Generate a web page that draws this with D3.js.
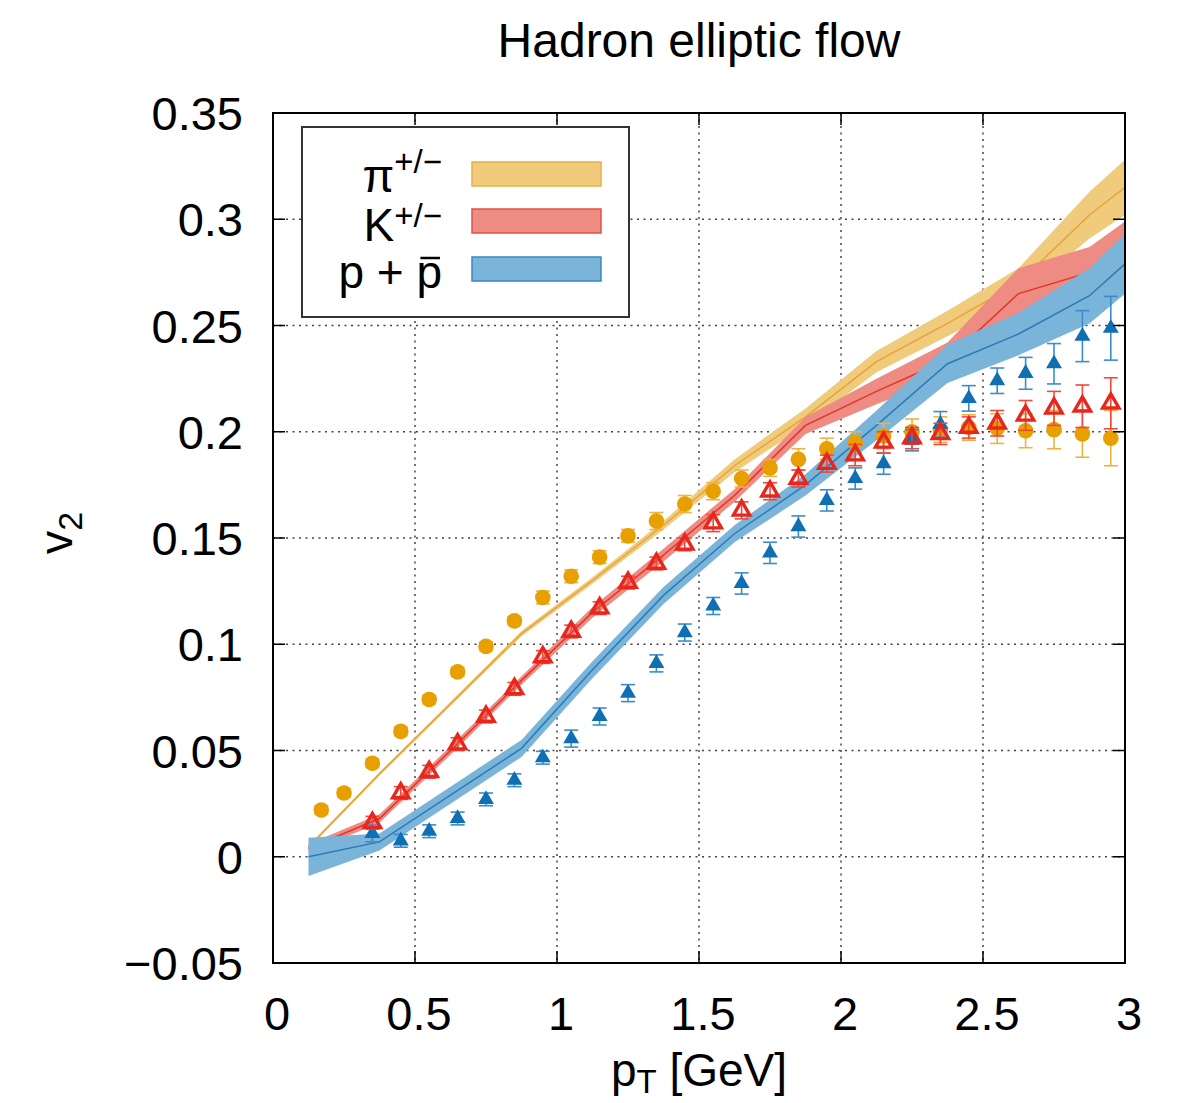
<!DOCTYPE html>
<html><head><meta charset="utf-8">
<script src="https://cdn.jsdelivr.net/npm/d3@7"></script>
<style>body{margin:0;background:#fff;} text{font-family:"Liberation Sans",Arial,Helvetica,sans-serif;fill:#000;}</style>
</head><body><svg id="c" width="1178" height="1103"></svg>
<script>
// ---- axis ticks ----
const xTicks=[0,0.5,1,1.5,2,2.5,3];
const xTickLabels=["0","0.5","1","1.5","2","2.5","3"];
const yTicks=[-0.05,0,0.05,0.1,0.15,0.2,0.25,0.3,0.35];
const yTickLabels=["\u22120.05","0","0.05","0.1","0.15","0.2","0.25","0.3","0.35"];

// ---- hydro model bands (knots in pT) ----
const hydroPT=[0.125,0.375,0.625,0.875,1.125,1.375,1.625,1.875,2.125,2.375,2.625,2.875,3.125];
const pionHydro=[0.0046,0.039,0.072,0.105,0.130,0.156,0.184,0.207,0.233,0.251,0.270,0.302,0.328];
const pionHydroErr=[0.0008,0.0008,0.001,0.0012,0.0015,0.002,0.003,0.004,0.005,0.006,0.007,0.011,0.015];
const kaonHydro=[0.004,0.018,0.050,0.083,0.115,0.142,0.170,0.203,0.219,0.234,0.265,0.275,0.297];
const kaonHydroErr=[0.002,0.002,0.002,0.002,0.0025,0.003,0.003,0.004,0.006,0.008,0.012,0.012,0.014];
const protonHydro=[0.000,0.007,0.029,0.051,0.088,0.123,0.152,0.175,0.203,0.232,0.246,0.264,0.294];
const protonHydroErr=[0.009,0.004,0.004,0.004,0.004,0.004,0.004,0.005,0.007,0.009,0.010,0.013,0.015];

// ---- measured data ----
const pionPT=[0.17,0.25,0.35,0.45,0.55,0.65,0.75,0.85,0.95,1.05,1.15,1.25,1.35,1.45,1.55,1.65,1.75,1.85,1.95,2.05,2.15,2.25,2.35,2.45,2.55,2.65,2.75,2.85,2.95];
const pionV2=[0.022,0.030,0.044,0.059,0.074,0.087,0.099,0.111,0.122,0.132,0.141,0.151,0.158,0.166,0.172,0.178,0.183,0.187,0.192,0.195,0.198,0.200,0.201,0.202,0.2015,0.2005,0.201,0.199,0.197];
const pionErr=[0.002,0.002,0.002,0.002,0.002,0.002,0.002,0.002,0.003,0.003,0.003,0.003,0.004,0.004,0.004,0.004,0.004,0.005,0.005,0.005,0.006,0.006,0.006,0.006,0.007,0.008,0.009,0.011,0.013];
const kaonPT=[0.35,0.45,0.55,0.65,0.75,0.85,0.95,1.05,1.15,1.25,1.35,1.45,1.55,1.65,1.75,1.85,1.95,2.05,2.15,2.25,2.35,2.45,2.55,2.65,2.75,2.85,2.95];
const kaonV2=[0.016,0.030,0.040,0.053,0.066,0.079,0.094,0.106,0.117,0.129,0.138,0.147,0.157,0.163,0.172,0.178,0.185,0.189,0.195,0.197,0.199,0.202,0.204,0.2077,0.211,0.212,0.2134];
const kaonErr=[0.003,0.003,0.003,0.003,0.003,0.003,0.003,0.003,0.003,0.003,0.003,0.003,0.004,0.004,0.004,0.004,0.004,0.005,0.005,0.005,0.005,0.005,0.006,0.007,0.008,0.010,0.012];
const protonPT=[0.35,0.45,0.55,0.65,0.75,0.85,0.95,1.05,1.15,1.25,1.35,1.45,1.55,1.65,1.75,1.85,1.95,2.05,2.15,2.25,2.35,2.45,2.55,2.65,2.75,2.85,2.95];
const protonV2=[0.011,0.0075,0.012,0.018,0.027,0.036,0.0466,0.0556,0.066,0.077,0.091,0.1055,0.118,0.1286,0.143,0.1554,0.1677,0.178,0.185,0.196,0.2035,0.2157,0.224,0.2275,0.232,0.245,0.2487];
const protonErr=[0.004,0.003,0.003,0.003,0.003,0.003,0.003,0.004,0.004,0.004,0.004,0.004,0.004,0.005,0.005,0.005,0.005,0.005,0.005,0.005,0.006,0.006,0.006,0.0075,0.0095,0.012,0.015];

const legendLabels=[{base:"\u03c0",sup:"+/\u2212"},{base:"K",sup:"+/\u2212"},{base:"p + p",bar:true}];

// ---- styles ----
const bandFill=["#efcb7b","#ee8b82","#7ab4d8"];
const bandLine=["#e8a33a","#e0362a","#2a7bb8"];
const bandEdge=["#e9b04a","#e05048","#3a88c0"];
const L=273,R=1125,T=113,B=963;

const svg=d3.select("#c");
const x=d3.scaleLinear().domain([0,3]).range([L,R]);
const y=d3.scaleLinear().domain([-0.05,0.35]).range([B,T]);

svg.append("defs").append("clipPath").attr("id","clip")
  .append("rect").attr("x",L).attr("y",T).attr("width",R-L).attr("height",B-T);

// grid
const grid=svg.append("g");
grid.selectAll("line.gx").data(xTicks.slice(1,-1)).enter().append("line")
  .attr("x1",d=>x(d)).attr("x2",d=>x(d)).attr("y1",T).attr("y2",B)
  .attr("stroke","#444").attr("stroke-width",1.5).attr("stroke-dasharray","2,4.5");
grid.selectAll("line.gy").data(yTicks.slice(1,-1)).enter().append("line")
  .attr("y1",d=>y(d)).attr("y2",d=>y(d)).attr("x1",L).attr("x2",R)
  .attr("stroke","#444").attr("stroke-width",1.5).attr("stroke-dasharray","2,4.5");

// bands
const plot=svg.append("g").attr("clip-path","url(#clip)");
const bands=[[pionHydro,pionHydroErr],[kaonHydro,kaonHydroErr],[protonHydro,protonHydroErr]];
bands.forEach(([v,e],i)=>{
  const pts=hydroPT.map((p,j)=>({p,v:v[j],e:e[j]}));
  plot.append("path").datum(pts)
    .attr("d",d3.area().x(d=>x(d.p)).y0(d=>y(d.v-d.e)).y1(d=>y(d.v+d.e)))
    .attr("fill",bandFill[i]).attr("stroke","none");
  plot.append("path").datum(pts)
    .attr("d",d3.line().x(d=>x(d.p)).y(d=>y(d.v)))
    .attr("fill","none").attr("stroke",bandLine[i]).attr("stroke-width",1.5);
});

// error bars helper
function errbars(pt,v,e,color){
  const g=plot.append("g").attr("stroke",color).attr("stroke-width",1.6).attr("fill","none");
  const data=pt.map((p,j)=>({p,v:v[j],e:e[j]}));
  g.selectAll("line.v").data(data).enter().append("line")
    .attr("x1",d=>x(d.p)).attr("x2",d=>x(d.p)).attr("y1",d=>y(d.v-d.e)).attr("y2",d=>y(d.v+d.e));
  g.selectAll("line.t").data(data).enter().append("line")
    .attr("x1",d=>x(d.p)-7).attr("x2",d=>x(d.p)+7).attr("y1",d=>y(d.v+d.e)).attr("y2",d=>y(d.v+d.e));
  g.selectAll("line.b").data(data).enter().append("line")
    .attr("x1",d=>x(d.p)-7).attr("x2",d=>x(d.p)+7).attr("y1",d=>y(d.v-d.e)).attr("y2",d=>y(d.v-d.e));
  return data;
}
// pions
const pd=errbars(pionPT,pionV2,pionErr,"#efb241");
plot.append("g").selectAll("circle").data(pd).enter().append("circle")
  .attr("cx",d=>x(d.p)).attr("cy",d=>y(d.v)).attr("r",7.8).attr("fill","#e89f00");
// protons
const prd=errbars(protonPT,protonV2,protonErr,"#3b8ccb");
const triF=d3.symbol().type(d3.symbolTriangle).size(110);
plot.append("g").selectAll("path").data(prd).enter().append("path")
  .attr("transform",d=>`translate(${x(d.p)},${y(d.v)})`).attr("d",triF).attr("fill","#0f6fb3");
// kaons
const kd=errbars(kaonPT,kaonV2,kaonErr,"#ee4a3e");
const triK=d3.symbol().type(d3.symbolTriangle).size(115);
plot.append("g").selectAll("path").data(kd).enter().append("path")
  .attr("transform",d=>`translate(${x(d.p)},${y(d.v)})`).attr("d",triK)
  .attr("fill","none").attr("stroke","#e8261c").attr("stroke-width",3.4);

// frame
svg.append("rect").attr("x",L).attr("y",T).attr("width",R-L).attr("height",B-T)
  .attr("fill","none").attr("stroke","#000").attr("stroke-width",2);
// ticks (inward, mirrored)
const tk=svg.append("g").attr("stroke","#000").attr("stroke-width",1.5);
xTicks.forEach(t=>{
  tk.append("line").attr("x1",x(t)).attr("x2",x(t)).attr("y1",B).attr("y2",B-12);
  tk.append("line").attr("x1",x(t)).attr("x2",x(t)).attr("y1",T).attr("y2",T+12);
});
yTicks.forEach(t=>{
  tk.append("line").attr("x1",L).attr("x2",L+12).attr("y1",y(t)).attr("y2",y(t));
  tk.append("line").attr("x1",R).attr("x2",R-12).attr("y1",y(t)).attr("y2",y(t));
});
// tick labels
svg.append("g").selectAll("text").data(xTicks).enter().append("text")
  .attr("x",d=>x(d)+4).attr("y",1030).attr("text-anchor","middle").attr("font-size",47)
  .text((d,i)=>xTickLabels[i]);
svg.append("g").selectAll("text").data(yTicks).enter().append("text")
  .attr("x",243).attr("y",d=>y(d)+17).attr("text-anchor","end").attr("font-size",47)
  .text((d,i)=>yTickLabels[i]);

// title
svg.append("text").attr("x",(L+R)/2).attr("y",57).attr("text-anchor","middle")
  .attr("font-size",48).text("Hadron elliptic flow");
// x label
const xl=svg.append("text").attr("x",(L+R)/2).attr("y",1086).attr("text-anchor","middle").attr("font-size",46);
xl.append("tspan").text("p");
xl.append("tspan").attr("font-size",33).attr("dy",7).text("T");
xl.append("tspan").attr("dy",-7).text(" [GeV]");
// y label
const yl=svg.append("text").attr("transform","translate(72,533) rotate(-90)").attr("text-anchor","middle").attr("font-size",47);
yl.append("tspan").text("v");
yl.append("tspan").attr("font-size",34).attr("dy",10).text("2");

// legend
const lg=svg.append("g");
lg.append("rect").attr("x",302).attr("y",127).attr("width",327).attr("height",190)
  .attr("fill","#fff").attr("stroke","#333").attr("stroke-width",2);
const rowY=[174,221,269];
const baseY=[192,241,288];
const supDy=[-19,-14,0];
legendLabels.forEach((lab,i)=>{
  lg.append("rect").attr("x",472).attr("y",rowY[i]-12).attr("width",129).attr("height",24)
    .attr("fill",bandFill[i]).attr("stroke",bandEdge[i]).attr("stroke-width",1.5);
  const t=lg.append("text").attr("x",442).attr("y",baseY[i]).attr("text-anchor","end").attr("font-size",46);
  t.append("tspan").text(lab.base);
  if(lab.sup) t.append("tspan").attr("font-size",33).attr("dy",supDy[i]).text(lab.sup);
  if(lab.bar){
    const n=lab.base.length;
    const ex=t.node().getExtentOfChar(n-1);
    lg.append("line").attr("x1",ex.x+4).attr("x2",ex.x+ex.width-2)
      .attr("y1",baseY[i]-30).attr("y2",baseY[i]-30).attr("stroke","#000").attr("stroke-width",2.5);
  }
});
</script></body></html>
